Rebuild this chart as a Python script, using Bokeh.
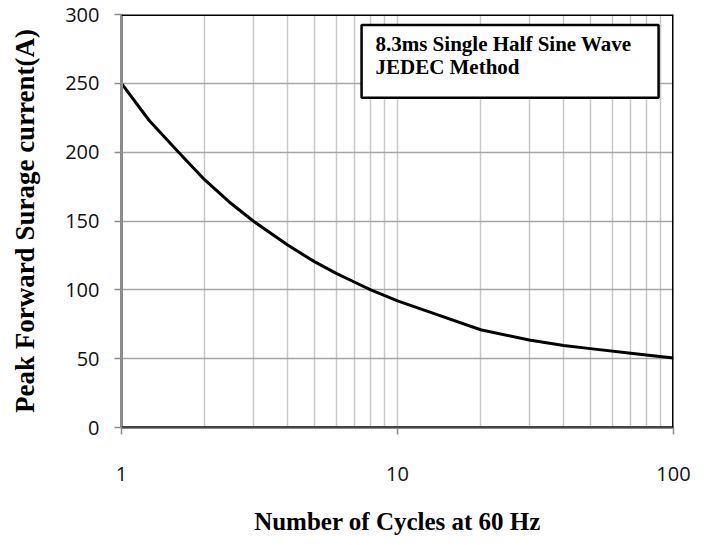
from bokeh.plotting import figure
from bokeh.models import FixedTicker, Span, BoxAnnotation, Label
from bokeh.embed import file_html
from bokeh.resources import INLINE

cycles = [1, 1.26, 1.61, 2, 2.45, 3, 4, 5, 6, 7, 8, 9, 10, 14, 20, 30, 40, 50, 70, 100]
current = [250, 223, 200, 180, 164, 150, 132.5, 120.5, 112, 105.5, 100, 95.8, 92, 81.8, 71,
           63.5, 59.5, 57.3, 54.0, 50.5]
x_major = [1, 10, 100]
x_grid = [1, 2, 3, 4, 5, 6, 7, 8, 9, 10, 20, 30, 40, 50, 60, 70, 80, 90, 100]
y_ticks = [0, 50, 100, 150, 200, 250, 300]

p = figure(width=694, height=537, x_axis_type="log", x_range=(1, 100), y_range=(0, 300),
           output_backend="svg", toolbar_location=None,
           min_border_left=121, min_border_right=21, min_border_top=14, min_border_bottom=109)
p.outline_line_color = None

p.xaxis.ticker = FixedTicker(ticks=x_major)
p.xaxis.major_label_overrides = {1: "1", 10: "10", 100: "100"}
p.yaxis.ticker = FixedTicker(ticks=y_ticks)
p.xgrid.ticker = FixedTicker(ticks=x_grid)
p.ygrid.ticker = FixedTicker(ticks=y_ticks)
p.xgrid.grid_line_color = "#c8c8c8"
p.xgrid.grid_line_width = 1.5
p.ygrid.grid_line_color = "#a6a6a6"
p.ygrid.grid_line_width = 1.5

for ax in (p.xaxis[0], p.yaxis[0]):
    ax.axis_line_color = "#8c8c8c"
    ax.axis_line_width = 3
    ax.major_tick_line_color = "#8c8c8c"
    ax.major_tick_line_width = 1.5
    ax.major_tick_out = 7
    ax.major_tick_in = 0
    ax.minor_tick_line_color = None
    ax.major_label_text_font = "Open Sans"
    ax.major_label_text_font_size = "20px"
    ax.major_label_text_color = "#111111"
    ax.axis_label_text_font = "Liberation Serif"
    ax.axis_label_text_font_style = "bold"
    ax.axis_label_text_color = "#000000"

p.xaxis.axis_label_text_font_size = "25px"
p.yaxis.axis_label_text_font_size = "27px"
p.xaxis.major_label_standoff = 32
p.yaxis.major_label_standoff = 15
p.xaxis.axis_label = "Number of Cycles at 60 Hz"
p.yaxis.axis_label = "Peak Forward Surage current(A)"
p.xaxis.axis_label_standoff = 24
p.yaxis.axis_label_standoff = 22

p.add_layout(Span(location=300, dimension="width", line_color="black", line_width=3))
p.add_layout(Span(location=100, dimension="height", line_color="black", line_width=3))
p.add_layout(Span(location=0, dimension="width", line_color="black", line_width=2))

p.line(cycles, current, line_color="black", line_width=3, line_join="round")

p.add_layout(BoxAnnotation(left=7.41, right=88.3, top=292.3, bottom=239.5,
                           fill_color="white", fill_alpha=1,
                           line_color="black", line_alpha=1, line_width=2.5))
p.add_layout(Label(x=8.32, y=278.6, text="8.3ms Single Half Sine Wave",
                   text_font="Liberation Serif", text_font_style="bold",
                   text_color="black", text_font_size="21px", text_baseline="middle"))
p.add_layout(Label(x=8.32, y=261.9, text="JEDEC Method",
                   text_font="Liberation Serif", text_font_style="bold",
                   text_color="black", text_font_size="21px", text_baseline="middle"))

open("out.html", "w").write(file_html(p, INLINE))
